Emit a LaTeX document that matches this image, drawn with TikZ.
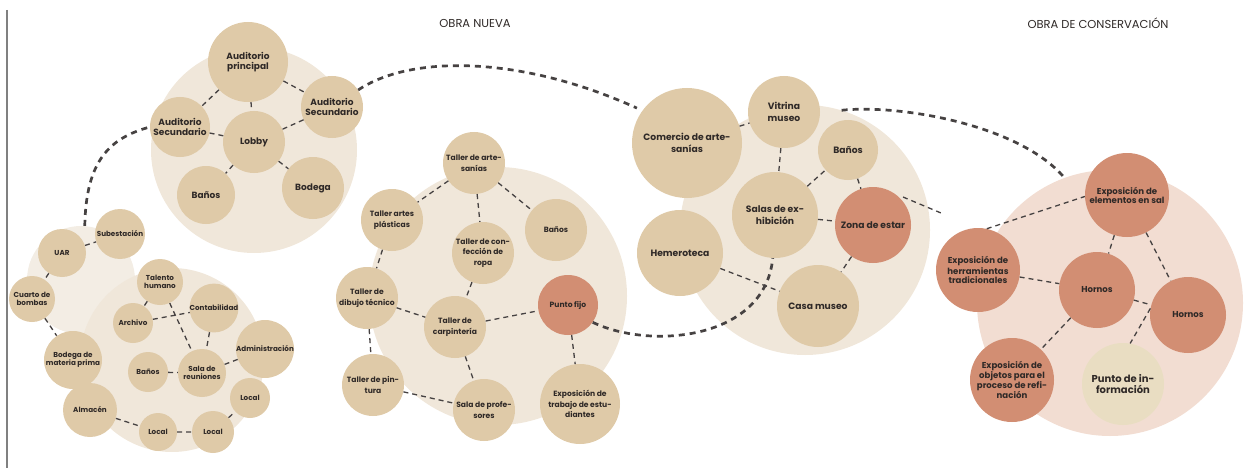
\documentclass[tikz,border=0pt]{standalone}
\usepackage{fontspec}
\setmainfont{Poppins}
\usepackage{tikz}
\usepackage{xcolor}
\definecolor{arena}{HTML}{DFCAA8}
\definecolor{fondo}{HTML}{F0E7DA}
\definecolor{fondoclaro}{HTML}{F3EDE4}
\definecolor{terra}{HTML}{D28E73}
\definecolor{rosa}{HTML}{F2DDD2}
\definecolor{crema}{HTML}{E9DDC2}
\definecolor{tinta}{HTML}{2F2927}
\definecolor{guion}{HTML}{464242}

\begin{document}
\begin{tikzpicture}[x=1pt,y=-1pt,
  zona/.style={circle,fill=fondo,inner sep=0pt,minimum size=2*#1},
  sala/.style={circle,fill=arena,inner sep=0pt,minimum size=2*#1,align=center,text=tinta},
  rojo/.style={fill=terra},
  aud/.style={font=\bfseries\fontsize{9}{10}\selectfont},
  adm/.style={font=\bfseries\fontsize{7.2}{8}\selectfont},
  tal/.style={font=\bfseries\fontsize{7.6}{10.5}\selectfont},
  mus/.style={font=\bfseries\fontsize{9.2}{12}\selectfont},
  con/.style={font=\bfseries\fontsize{8.6}{9}\selectfont},
  enlace/.style={draw=guion,line width=1.3pt,dash pattern=on 5pt off 4pt},
  recorrido/.style={draw=guion,line width=2.7pt,dash pattern=on 6pt off 5pt},
  titulo/.style={text=tinta,font=\fontsize{11.5}{13}\selectfont}]
\useasboundingbox (0,0) rectangle (1244,468);
\draw[gray,line width=1.2pt] (7,10) -- (7,468);

\node[titulo] (tnueva) at (475,23) {OBRA NUEVA};
\node[titulo] (tcons) at (1098,23) {OBRA DE CONSERVACIÓN};

\node[zona=103] (zaud) at (254,150) {};
\node[zona=54,fill=fondoclaro] (zuar) at (81,280) {};
\node[zona=92] (zadm) at (172,360) {};
\node[zona=129] (ztal) at (498,296) {};
\node[zona=125] (zmus) at (805,230) {};
\node[zona=133,fill=rosa] (zcon) at (1110,303) {};

\node[sala=40,aud] (audp) at (248,62) {Auditorio\\principal};
\node[sala=31,aud] (auds2) at (332,107) {Auditorio\\Secundario};
\node[sala=30,aud] (auds1) at (180,127) {Auditorio\\Secundario};
\node[sala=31,aud] (lobby) at (254,142) {Lobby};
\node[sala=29,aud] (banos1) at (206,195) {Baños};
\node[sala=31,aud] (bodega) at (313,188) {Bodega};

\node[sala=25,adm] (subest) at (120,234) {Subestación};
\node[sala=24,adm] (uar) at (62,253) {UAR};
\node[sala=23,adm] (bombas) at (32,299) {Cuarto de\\bombas};
\node[sala=29,adm] (bodmp) at (73,360) {Bodega de\\materia prima};
\node[sala=27,adm] (almacen) at (90,410) {Almacén};
\node[sala=23,adm] (talento) at (160,282) {Talento\\humano};
\node[sala=24,adm] (contab) at (214,308) {Contabilidad};
\node[sala=20,adm] (archivo) at (133,323) {Archivo};
\node[sala=27,adm] (admin) at (265,349) {Administración};
\node[sala=20,adm] (banos2) at (148,372) {Baños};
\node[sala=24,adm] (reun) at (202,373) {Sala de\\reuniones};
\node[sala=20,adm] (local1) at (250,398) {Local};
\node[sala=19,adm] (local2) at (158,432) {Local};
\node[sala=21,adm] (local3) at (213,432) {Local};

\node[sala=31,tal] (artesan) at (474,163) {Taller de arte-\\sanías};
\node[sala=31,tal] (plastic) at (392,220) {Taller artes\\plásticas};
\node[sala=31,tal] (banos3) at (556,230) {Baños};
\node[sala=31,tal] (ropa) at (483,253) {Taller de con-\\fección de\\ropa};
\node[sala=31,tal] (dibujo) at (367,298) {Taller de\\dibujo técnico};
\node[sala=31,tal] (carpin) at (455,327) {Taller de\\carpintería};
\node[sala=30,tal,rojo] (pfijo) at (568,305) {Punto fijo};
\node[sala=31,tal] (pintura) at (373,385) {Taller de pin-\\tura};
\node[sala=31,tal] (profes) at (484,410) {Sala de profe-\\sores};
\node[sala=40,tal] (expest) at (580,404) {Exposición de\\trabajo de estu-\\diantes};

\node[sala=55,mus] (comercio) at (687,143) {Comercio de arte-\\sanías};
\node[sala=36,mus] (vitrina) at (784,112) {Vitrina\\museo};
\node[sala=30,mus] (banos4) at (848,150) {Baños};
\node[sala=43,mus] (salas) at (775,215) {Salas de ex-\\hibición};
\node[sala=38,mus,rojo] (estar) at (873,225) {Zona de estar};
\node[sala=43,mus] (hemero) at (680,253) {Hemeroteca};
\node[sala=41,mus] (casa) at (818,306) {Casa museo};

\node[sala=42,con,rojo] (sal) at (1127,195) {Exposición de\\elementos en sal};
\node[sala=42,con,rojo] (herram) at (978,270) {Exposición de\\herramientas\\tradicionales};
\node[sala=38,con,rojo] (hornos1) at (1097,290) {Hornos};
\node[sala=38,con,rojo] (hornos2) at (1188,315) {Hornos};
\node[sala=42,con,rojo] (objetos) at (1012,380) {Exposición de\\objetos para el\\proceso de refi-\\nación};
\node[sala=41,fill=crema,font=\bfseries\fontsize{10}{11}\selectfont] (info) at (1123,384) {Punto de in-\\formación};

\path[enlace] (audp) -- (auds1) (audp) -- (lobby) (audp) -- (auds2)
  (auds2) -- (lobby) (auds1) -- (lobby) (lobby) -- (banos1) (lobby) -- (bodega);
\path[enlace] (uar) -- (subest) (uar) -- (bombas) (bombas) -- (bodmp)
  (talento) -- (archivo) (talento) -- (reun) (archivo) -- (contab)
  (contab) -- (reun) (banos2) -- (reun) (reun) -- (admin)
  (almacen) -- (local2) (local2) -- (local3) (local3) -- (local1);
\path[enlace] (artesan) -- (plastic) (artesan) -- (ropa) (artesan) -- (banos3)
  (plastic) -- (dibujo) (ropa) -- (carpin) (dibujo) -- (carpin)
  (dibujo) -- (pintura) (carpin) -- (pfijo) (carpin) -- (profes)
  (pintura) -- (profes) (pfijo) -- (expest);
\path[enlace] (comercio) -- (vitrina) (vitrina) -- (salas) (salas) -- (banos4)
  (banos4) -- (estar) (salas) -- (estar) (estar) -- (casa) (hemero) -- (casa);
\coordinate (s1) at (903,197);
\coordinate (s2) at (941,213);
\path[enlace] (s1) -- (s2);
\path[enlace] (herram.78) -- (sal.182) (sal) -- (hornos1) (sal) -- (hornos2)
  (herram) -- (hornos1) (hornos1) -- (objetos) (hornos1) -- (hornos2)
  (hornos2.170) -- (info.80);

\path[recorrido] (zuar.86) .. controls (86,160) and (110,138) .. (auds1.west);
\path[recorrido,shorten >=6pt] (auds2.33) .. controls (410,55) and (520,55) .. (comercio.144);
\path[recorrido] (zmus.73) .. controls (900,104) and (1020,125) .. (zcon.110);
\path[recorrido] (pfijo.-35) .. controls (650,350) and (765,340) .. (salas.-93);
\end{tikzpicture}
\end{document}
